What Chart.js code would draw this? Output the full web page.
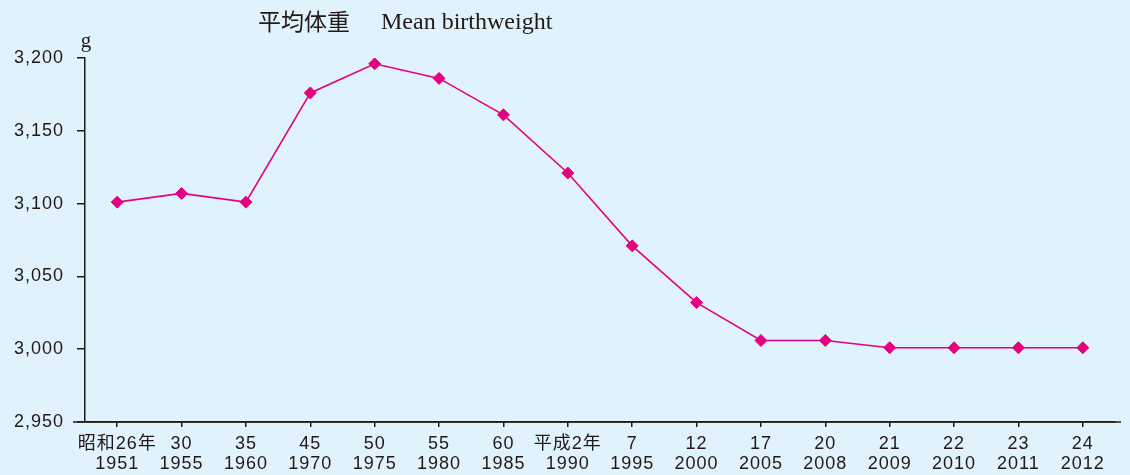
<!DOCTYPE html>
<html>
<head>
<meta charset="utf-8">
<script src="https://cdn.jsdelivr.net/npm/chart.js@4.4.1/dist/chart.umd.min.js"></script>
<style>
  html, body { margin: 0; padding: 0; background: #e0f2fc; }
  #wrap { width: 1130px; height: 475px; }
</style>
</head>
<body>
<div id="wrap"><canvas id="birth-chart" width="1130" height="475"></canvas></div>
<script>
// Datos: año japonés / año occidental / peso medio (g)
const eraLabels = ['昭和26年', '30', '35', '45', '50', '55', '60', '平成2年', '7', '12', '17', '20', '21', '22', '23', '24'];
const yearLabels = ['1951', '1955', '1960', '1970', '1975', '1980', '1985', '1990', '1995', '2000', '2005', '2008', '2009', '2010', '2011', '2012'];
const meanWeight = [3101, 3107, 3101, 3176, 3196, 3186, 3161, 3121, 3071, 3032, 3006, 3006, 3001, 3001, 3001, 3001];
const yTicks = [2950, 3000, 3050, 3100, 3150, 3200];

const ink = '#231815';
const magenta = '#e4007f';
const sansFont = "'Liberation Sans', Arial, 'Noto Sans CJK JP', sans-serif";

// Espaciado de letras para las etiquetas de los ejes
const spacing = {
  id: 'spacing',
  beforeUpdate(chart) { chart.ctx.letterSpacing = '1px'; },
  beforeDraw(chart) { chart.ctx.letterSpacing = '1px'; }
};

// Título, unidad y extensión del eje X
const extras = {
  id: 'extras',
  afterDraw(chart) {
    const ctx = chart.ctx;
    const area = chart.chartArea;
    ctx.save();
    ctx.letterSpacing = '0px';
    ctx.fillStyle = ink;
    ctx.textBaseline = 'alphabetic';
    ctx.textAlign = 'left';
    ctx.font = "23px 'Noto Sans CJK JP', sans-serif";
    ctx.fillText('平均体重', 258, 30);
    ctx.font = "24px 'Liberation Serif', 'Times New Roman', serif";
    ctx.fillText('Mean birthweight', 381, 29);
    ctx.textAlign = 'center';
    ctx.font = "21px 'Liberation Serif', 'Times New Roman', serif";
    ctx.fillText('g', area.left + 1, 47);
    ctx.strokeStyle = ink;
    ctx.lineWidth = 1.5;
    ctx.beginPath();
    ctx.moveTo(area.left - 12, area.bottom);
    ctx.lineTo(area.right + 6, area.bottom);
    ctx.stroke();
    ctx.restore();
  }
};

const lineChart = new Chart(document.getElementById('birth-chart'), {
  type: 'line',
  data: {
    labels: eraLabels.map((e, i) => [e, yearLabels[i]]),
    datasets: [{
      label: '平均体重',
      data: meanWeight,
      borderColor: magenta,
      backgroundColor: magenta,
      borderWidth: 1.6,
      pointStyle: 'rectRot',
      pointRadius: 6,
      pointBorderWidth: 1,
      tension: 0
    }]
  },
  options: {
    responsive: false,
    animation: false,
    layout: { padding: { left: 0, top: 58, right: 15, bottom: 0 } },
    plugins: {
      legend: { display: false },
      tooltip: { enabled: false }
    },
    scales: {
      x: {
        offset: true,
        grid: { drawOnChartArea: false, tickLength: 5, color: ink, lineWidth: 1.5 },
        border: { color: ink, width: 1.5 },
        ticks: {
          color: ink,
          padding: 7,
          maxRotation: 0,
          autoSkip: false,
          font: { family: sansFont, size: 18, lineHeight: 1.1 }
        },
        afterFit(scale) { scale.height = 53; }
      },
      y: {
        min: yTicks[0],
        max: yTicks[yTicks.length - 1],
        grid: { drawOnChartArea: false, tickLength: 8, color: ink, lineWidth: 1.5 },
        border: { color: ink, width: 1.5 },
        afterBuildTicks(scale) { scale.ticks = yTicks.map(v => ({ value: v })); },
        ticks: {
          color: ink,
          padding: 13,
          font: { family: sansFont, size: 18 },
          callback: v => v.toLocaleString('en-US')
        },
        afterFit(scale) { scale.width = 85; }
      }
    }
  },
  plugins: [spacing, extras]
});
</script>
</body>
</html>
